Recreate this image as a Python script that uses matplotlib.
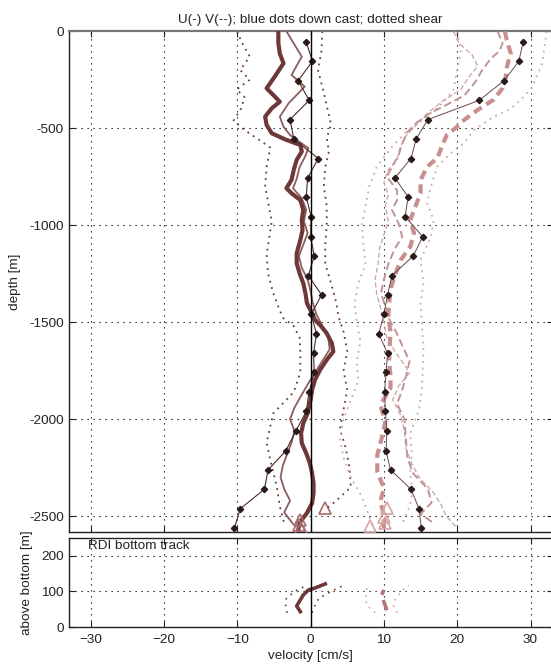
import matplotlib
matplotlib.use("Agg")
import matplotlib.pyplot as plt
import numpy as np

plt.rcParams['font.family'] = ['Liberation Sans', 'DejaVu Sans']

# ---------------- profile data (depth in m, velocity in cm/s) ----------------
# U (east) final solution, thick solid
z_u = [0, 60, 114, 165, 234, 294, 328, 363, 397, 440, 483, 526, 560, 586, 620, 663,
       715, 766, 809, 835, 870, 921, 973, 1025, 1076, 1145, 1196, 1248, 1299, 1351,
       1402, 1454, 1488, 1523, 1557, 1608, 1651, 1694, 1745, 1797, 1849, 1900, 1969,
       2021, 2072, 2124, 2175, 2227, 2278, 2330, 2381, 2433, 2484, 2528, 2570]
u_final = [-4.4, -4.4, -4.2, -3.7, -4.9, -6.0, -5.1, -4.2, -5.3, -6.2, -6.0, -5.3, -3.3,
           -1.4, -1.2, -1.9, -2.3, -2.6, -3.3, -2.6, -1.4, -1.0, -1.2, -1.1, -1.4, -1.9,
           -1.9, -1.5, -1.0, -0.7, -0.5, 0.2, 0.6, 1.5, 2.2, 2.9, 3.1, 2.2, 1.3, 0.6, 0.2,
           0.0, -0.4, -1.0, -1.3, -1.2, -0.6, -0.1, 0.2, 0.4, 0.4, 0.2, -0.5, -1.4, -1.7]

# U second solution, medium solid
z_u2 = [0, 131, 225, 285, 371, 440, 492, 535, 603, 650, 700, 760, 810, 860, 920, 980,
        1040, 1100, 1160, 1220, 1280, 1340, 1400, 1460, 1520, 1580, 1640, 1700, 1760,
        1820, 1880, 1940, 2000, 2060, 2120, 2180, 2240, 2300, 2360, 2420, 2480, 2540]
u_second = [-3.3, -1.2, -2.6, -0.8, -3.0, -4.2, -3.7, -2.8, -0.3, -0.8, -1.5, -1.9, -2.4,
            -1.2, -0.6, -0.9, -0.4, -1.0, -1.6, -1.2, -0.4, 0.0, 0.3, 0.8, 1.6, 2.4, 2.6,
            1.6, 0.6, -0.4, -1.3, -2.2, -2.8, -2.2, -2.6, -3.2, -3.8, -4.1, -3.6, -2.8,
            -3.6, -2.4]

# down cast (dots)
z_dn = [55, 155, 254, 356, 455, 555, 656, 756, 854, 955, 1059, 1158, 1260, 1359, 1459,
        1560, 1660, 1758, 1858, 1960, 2060, 2164, 2261, 2361, 2462, 2562]
u_down = [-0.6, 0.25, -1.7, -0.2, -2.8, -2.3, 1.05, -0.4, -0.6, 0.07, 0.0, 0.5, -0.3, 1.5,
          0.07, 0.8, 0.4, 0.5, -0.2, -0.6, -2.0, -3.4, -5.8, -6.3, -9.6, -10.4]
v_down = [29.0, 28.4, 26.4, 23.0, 16.0, 14.4, 13.7, 11.5, 13.3, 12.9, 15.3, 14.0, 11.1,
          10.5, 10.0, 9.3, 10.5, 10.3, 10.1, 10.2, 10.4, 10.3, 10.9, 13.7, 14.8, 15.1]

# U shear-based bounds, dotted
z_us_l = [0, 50, 130, 200, 250, 300, 340, 400, 460, 510, 560, 600, 700, 800, 880, 980,
          1150, 1250, 1350, 1440, 1480, 1520, 1580, 1650, 1760, 1860, 1970, 2120, 2210,
          2350, 2450, 2550]
u_shear_l = [-10.0, -9.5, -8.3, -9.6, -8.3, -10.1, -9.0, -9.5, -10.5, -9.0, -7.0, -5.5,
             -6.0, -6.2, -5.8, -5.3, -6.0, -5.8, -5.1, -4.2, -3.7, -2.3, -1.5, -1.4, -1.4,
             -2.3, -5.1, -6.0, -5.5, -4.6, -4.2, -3.5]
z_us_r = [0, 100, 200, 300, 400, 480, 550, 620, 700, 800, 900, 1000, 1100, 1200, 1300,
          1400, 1470, 1550, 1650, 1750, 1850, 1950, 2050, 2150, 2250, 2350, 2420, 2460]
u_shear_r = [1.6, 1.5, 1.0, 1.7, 2.3, 2.8, 2.2, 2.5, 2.0, 1.8, 2.2, 2.2, 2.0, 2.0, 2.8,
             3.5, 3.8, 4.5, 5.0, 4.5, 5.0, 4.5, 4.0, 4.8, 5.3, 5.5, 3.5, 2.2]

# V (north) final solution, thick dashed
z_v = [0, 52, 112, 180, 241, 292, 352, 378, 413, 464, 498, 533, 584, 653, 698, 767, 835,
       904, 973, 1041, 1110, 1179, 1248, 1317, 1402, 1471, 1550, 1620, 1703, 1772, 1841,
       1926, 2012, 2098, 2184, 2270, 2355, 2425, 2494, 2562]
v_final = [26.5, 26.8, 27.3, 26.8, 26.6, 26.2, 25.0, 23.9, 22.5, 20.7, 19.8, 18.6, 18.0,
           17.3, 15.9, 15.0, 15.0, 14.3, 13.6, 14.1, 13.6, 12.3, 11.6, 11.0, 10.7, 10.6,
           10.9, 10.8, 10.7, 10.9, 10.9, 9.5, 10.2, 9.7, 9.1, 9.1, 10.0, 9.5, 10.0, 10.0]

# V second solution, medium dashed
z_v2 = [0, 60, 100, 140, 200, 260, 330, 380, 420, 470, 520, 580, 640, 700, 750, 820, 870,
        920, 990, 1060, 1120, 1200, 1280, 1350, 1420, 1490, 1560, 1620, 1700, 1780, 1850,
        1920, 2000, 2100, 2200, 2280, 2360, 2430, 2490, 2540]
v_second = [25.5, 26.2, 25.8, 24.6, 23.4, 22.5, 21.0, 18.5, 16.4, 14.5, 13.2, 12.5, 12.0,
            11.1, 10.4, 11.8, 11.8, 11.1, 12.0, 12.5, 11.5, 10.6, 10.0, 9.6, 10.2, 10.8,
            11.8, 12.5, 13.5, 13.0, 12.5, 11.8, 12.8, 13.0, 13.2, 14.0, 16.0, 16.5, 15.0,
            17.0]

# V third solution, thin dashed
z_v3 = [0, 60, 120, 180, 240, 300, 360, 420, 480, 540, 600, 660, 720, 780, 840, 900, 980,
        1050, 1120, 1200, 1280, 1350, 1420, 1500, 1580, 1650, 1720, 1760, 1830, 1900, 1980,
        2060, 2150, 2230, 2300, 2380, 2440, 2500, 2560]
v_third = [19.5, 20.2, 22.0, 22.8, 21.5, 20.5, 18.0, 16.0, 14.5, 13.0, 12.2, 11.8, 10.5,
           10.0, 10.6, 10.2, 10.6, 10.0, 9.4, 9.2, 8.8, 9.0, 9.5, 10.0, 10.4, 11.5, 12.8,
           13.5, 12.0, 11.2, 12.3, 12.8, 13.0, 13.8, 14.8, 16.8, 17.8, 18.5, 20.0]

# V shear-based bounds, dotted
z_vs_l = [0, 100, 200, 300, 370, 450, 520, 600, 700, 800, 900, 1000, 1100, 1200, 1300,
          1400, 1500, 1600, 1700, 1800, 1900, 2000, 2100, 2200, 2300, 2400, 2500, 2560]
v_shear_l = [20.0, 20.5, 20.0, 19.5, 18.0, 15.5, 13.0, 11.0, 9.0, 8.0, 7.5, 7.0, 7.2, 7.5,
             6.5, 6.0, 6.3, 6.8, 6.3, 6.5, 5.5, 4.5, 4.0, 4.5, 5.5, 7.0, 8.0, 8.5]
z_vs_r = [0, 165, 285, 337, 400, 440, 509, 578, 629, 698, 801, 887, 973, 1059, 1179, 1299,
          1402, 1523, 1643, 1832, 1950, 2072, 2175, 2278, 2381, 2450, 2540]
v_shear_r = [32.2, 31.6, 30.3, 29.1, 27.3, 25.0, 22.3, 20.9, 19.1, 17.3, 16.4, 15.9, 16.8,
             16.4, 15.0, 15.4, 15.0, 15.2, 15.4, 15.2, 14.8, 13.6, 13.8, 13.6, 13.9, 13.5,
             12.5]

# bottom track near the sea floor
z_bt_u = [2459, 2519, 2545, 2560]
u_bt = [2.0, -1.4, -1.6, -1.3]
z_bt_v = [2459, 2502, 2536, 2553]
v_bt = [10.4, 10.0, 10.2, 8.1]

# RDI bottom track profile (height above bottom)
h_rdi = [43, 59, 90, 104, 108, 121]
u_rdi = [-1.4, -1.9, -1.0, -0.3, 0.4, 2.0]
h_rdi_v = [47, 71, 90, 104]
v_rdi = [10.4, 10.0, 9.7, 10.0]
h_rdi_s = [40, 60, 80, 100, 117]
u_rdi_l = [-3.2, -3.4, -3.3, -2.2, -0.5]
u_rdi_r = [0.2, 0.6, 1.1, 2.8, 4.5]
v_rdi_l = [8.8, 7.7, 7.5, 7.6, 7.7]
v_rdi_r = [11.8, 11.3, 11.6, 12.4, 13.4]

x_ticks = [-30, -20, -10, 0, 10, 20, 30]
depth_ticks = [0, -500, -1000, -1500, -2000, -2500]
hab_ticks = [0, 100, 200]

# ---------------- colours ----------------
c_u_thick = '#6e3838'
c_u_mid = '#8e5c5c'
c_u_dot = '#6a3a3a'
c_v_thick = '#c98f8f'
c_v_mid = '#c39393'
c_v_thin = '#c9a2a2'
c_v_dot = '#d3a7a7'
c_dn = '#2a1a1a'

W, H = 551, 666
fig = plt.figure(figsize=(W / 100, H / 100), dpi=100)
left_px, right_px = 68.7, 552.5
ax = fig.add_axes([left_px / W, 1 - 531.7 / H, (right_px - left_px) / W, (531.7 - 31.3) / H])
ax2 = fig.add_axes([left_px / W, 1 - 627 / H, (right_px - left_px) / W, (627 - 538) / H])

FS = 9.7
grid_kw = dict(color='black', lw=0.8, linestyle=(0, (1.1, 4.3)), zorder=0)
dot_ls = (0, (1, 2.6))
dash_thick = (0, (2.2, 1.3))
dash_thin = (0, (4, 2))


def neg(z):
    return -np.asarray(z, dtype=float)


def style_axes(a):
    a.set_xlim(-33, 33)
    a.set_xticks(x_ticks)
    for s in a.spines.values():
        s.set_color('#222222')
        s.set_linewidth(1.0)
    a.spines['right'].set_visible(False)
    a.tick_params(direction='in', length=4, width=0.8, top=True, right=True,
                  labelsize=FS, colors='#222222')
    for xv in x_ticks:
        a.axvline(xv, **grid_kw)


# ---------------- main depth panel ----------------
style_axes(ax)
ax.set_ylim(-2580, 0)
ax.set_yticks(depth_ticks)
ax.set_yticklabels([str(t) for t in depth_ticks])
ax.tick_params(axis='x', labelbottom=False)
ax.tick_params(axis='y', pad=3.5)
ax.spines['top'].set_color('#777777')
ax.spines['top'].set_linewidth(1.6)
for yv in depth_ticks[1:]:
    ax.axhline(yv, **grid_kw)

# shear bounds
ax.plot(u_shear_l, neg(z_us_l), color=c_u_dot, lw=1.3, linestyle=dot_ls, zorder=2)
ax.plot(u_shear_r, neg(z_us_r), color=c_u_dot, lw=1.3, linestyle=dot_ls, zorder=2)
ax.plot(v_shear_l, neg(z_vs_l), color=c_v_dot, lw=1.3, linestyle=dot_ls, zorder=2)
ax.plot(v_shear_r, neg(z_vs_r), color=c_v_dot, lw=1.3, linestyle=dot_ls, zorder=2)

# V profiles
ax.plot(v_third, neg(z_v3), color=c_v_thin, lw=0.9, linestyle=dash_thin, zorder=3)
ax.plot(v_second, neg(z_v2), color=c_v_mid, lw=1.4, linestyle=dash_thin, zorder=3)
ax.plot(v_final, neg(z_v), color=c_v_thick, lw=3.0, linestyle=dash_thick, zorder=4)
ax.plot(v_down, neg(z_dn), color='#6a4848', lw=0.7, zorder=5)

# U profiles
ax.plot(u_second, neg(z_u2), color=c_u_mid, lw=1.3, zorder=4)
ax.plot(u_final, neg(z_u), color=c_u_thick, lw=3.0, zorder=4)
ax.plot(u_down, neg(z_dn), color='#4a2c2c', lw=0.8, zorder=5)

# down-cast dots
ax.plot(u_down, neg(z_dn), linestyle='none', marker='D', ms=3.2, color=c_dn, zorder=6)
ax.plot(v_down, neg(z_dn), linestyle='none', marker='D', ms=3.2, color=c_dn, zorder=6)

# bottom track triangles
ax.plot(u_bt, neg(z_bt_u), linestyle='none', marker='^', ms=8, mfc='none',
        mec='#a86a6a', mew=1.2, zorder=6)
ax.plot(v_bt, neg(z_bt_v), linestyle='none', marker='^', ms=8, mfc='none',
        mec='#d6a4a4', mew=1.2, zorder=6)

ax.axvline(0, color='black', lw=1.0, zorder=7)
ax.set_ylabel('depth [m]', fontsize=FS, color='#222222')
ax.yaxis.set_label_coords(-0.098, 0.5)
ax.set_title('U(-) V(--); blue dots down cast; dotted shear', fontsize=FS,
             color='#222222', pad=6)

# ---------------- bottom track panel ----------------
style_axes(ax2)
ax2.set_ylim(0, 250)
ax2.set_yticks(hab_ticks)
ax2.tick_params(axis='x', pad=5)
ax2.tick_params(axis='y', pad=3.5)
for yv in hab_ticks[1:]:
    ax2.axhline(yv, **grid_kw)

ax2.plot(u_rdi_l, h_rdi_s, color=c_u_dot, lw=1.2, linestyle=(0, (1, 3)), zorder=2)
ax2.plot(u_rdi_r, h_rdi_s, color=c_u_dot, lw=1.2, linestyle=(0, (1, 3)), zorder=2)
ax2.plot(v_rdi_l, h_rdi_s, color=c_v_dot, lw=1.2, linestyle=(0, (1, 3)), zorder=2)
ax2.plot(v_rdi_r, h_rdi_s, color=c_v_dot, lw=1.2, linestyle=(0, (1, 3)), zorder=2)
ax2.plot(u_rdi, h_rdi, color=c_u_thick, lw=2.6, zorder=4)
ax2.plot(v_rdi, h_rdi_v, color='#b07878', lw=2.6, linestyle=(0, (3, 1.5)), zorder=4)
ax2.axvline(0, color='black', lw=1.0, zorder=7)

ax2.text(-30.3, 243, 'RDI bottom track', fontsize=FS, color='#222222', va='top', ha='left')
ax2.set_xlabel('velocity [cm/s]', fontsize=FS, color='#222222', labelpad=3)
ax2.set_ylabel('above bottom [m]', fontsize=FS, color='#222222')
ax2.yaxis.set_label_coords(-0.073, 0.5)

fig.savefig('out.png', dpi=100, facecolor='white')
